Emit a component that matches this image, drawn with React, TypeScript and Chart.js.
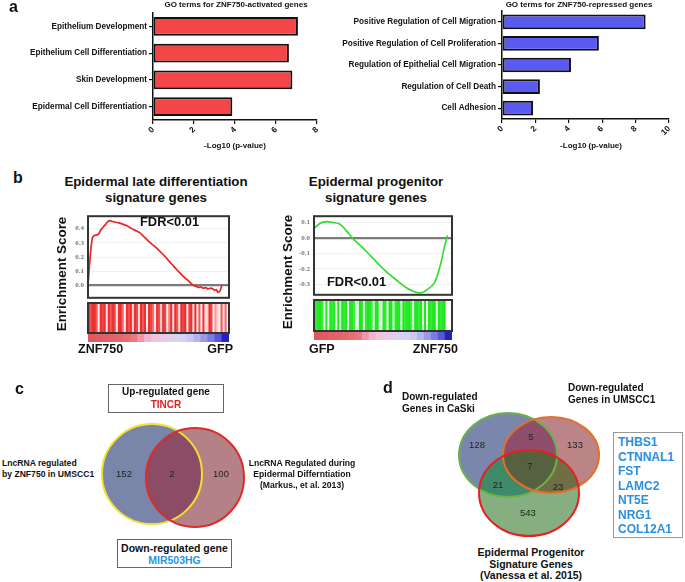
import React, { useEffect, useRef } from "react";
import { Chart, registerables } from "chart.js";
Chart.register(...registerables);

const FONT = "'Liberation Sans', Arial, sans-serif";
const SERIF = "'Liberation Serif', 'Times New Roman', serif";

// ---------- Panel a data ----------
const activatedTerms = ["Epithelium Development", "Epithelium Cell Differentiation", "Skin Development", "Epidermal Cell Differentiation"];
const activatedValues = [7.07, 6.63, 6.8, 3.87];
const activatedTicks = [0, 2, 4, 6, 8];
const repressedTerms = ["Positive Regulation of Cell Migration", "Positive Regulation of Cell Proliferation", "Regulation of Epithelial Cell Migration", "Regulation of Cell Death", "Cell Adhesion"];
const repressedValues = [8.6, 5.8, 4.13, 2.27, 1.86];
const repressedTicks = [0, 2, 4, 6, 8, 10];

// ---------- Panel b data ----------
const lateRank = [0, 1.5, 3, 4.3, 6, 7.5, 9, 10.6, 12.5, 14, 15.6, 17.5, 19.5, 22, 25, 27.7, 31, 34, 36.9, 40, 43, 46, 48.9, 52, 55, 57.5, 60.3, 63, 65.5, 68, 70.2, 72.5, 74.5, 76.5, 78.5, 80, 81.6, 83.5, 85, 87, 88.7, 90, 91, 92.2, 93.5, 94.3, 95];
const lateES = [0, 0.2, 0.33, 0.35, 0.355, 0.36, 0.39, 0.41, 0.43, 0.45, 0.457, 0.45, 0.445, 0.44, 0.43, 0.42, 0.4, 0.385, 0.37, 0.34, 0.31, 0.285, 0.26, 0.23, 0.2, 0.17, 0.14, 0.11, 0.085, 0.06, 0.04, 0.02, 0.0, -0.005, -0.015, -0.01, -0.02, -0.015, -0.025, -0.02, -0.025, -0.035, -0.03, -0.05, -0.04, -0.02, 0.0];
const lateTicks = [0, 0.1, 0.2, 0.3, 0.4];
const progRank = [0, 3, 6, 9.4, 13, 18.8, 23.5, 28.3, 33, 38.2, 43, 47.8, 52.5, 57.2, 62, 67.2, 71.5, 75.6, 79.5, 82.8, 85.5, 87.7, 89.5, 91.3, 92.8, 94.2, 95.5, 96.6];
const progES = [0.06, 0.085, 0.1, 0.105, 0.1, 0.088, 0.045, -0.005, -0.045, -0.09, -0.135, -0.18, -0.22, -0.255, -0.29, -0.325, -0.345, -0.356, -0.35, -0.33, -0.31, -0.283, -0.24, -0.186, -0.13, -0.07, -0.025, 0.015];
const progTicks = [0.1, 0, -0.1, -0.2, -0.3];
const lateBarcode = [1, 0.85, 1, 1, 0.8, 0.1, 1, 0.9, 1, 0.15, 1, 0.8, 1, 0.9, 0.1, 1, 1, 0.7, 0.1, 1, 0.85, 1, 0.2, 1, 0.9, 0.15, 1, 0.8, 1, 0.1, 1, 0.9, 0.7, 0.1, 1, 0.85, 0.2, 1, 0.9, 0.1, 0.6, 1, 0.15, 1, 0.8, 0.1, 1, 0.9, 1, 0.1, 0.9, 1, 0.15, 1, 0.1, 0.8, 0.1, 1, 0.15, 0.2, 1, 0.9, 0.1, 0.5, 0.2, 0.1, 0.8, 0.15, 0.7, 0.1];
const progBarcode = [1, 0.9, 1, 1, 0.85, 0.1, 1, 0.15, 1, 0.9, 1, 0.1, 1, 0.2, 1, 0.9, 1, 0.1, 1, 1, 0.85, 0.15, 0.2, 1, 1, 0.1, 0.9, 1, 1, 0.85, 0.1, 1, 1, 0.15, 0.2, 1, 0.9, 0.1, 1, 1, 0.15, 0.9, 1, 1, 0.1, 1, 0.9, 1, 1, 0.85, 0.1, 1, 1, 0.9, 1, 0.15, 1, 0.1, 1, 0.9, 1, 1, 0.15, 1, 0.9, 1, 1, 0, 0, 0];
const rampColors = ["#e0575f", "#e25a62", "#e35e66", "#e4626a", "#e6666e", "#e86c74", "#ea7680", "#ee96a8", "#f2b4cc", "#f0c4dc", "#ecc8e4", "#e4cdea", "#dcd2f0", "#d4d2f2", "#c8c8f0", "#b4b4ee", "#9a9ae8", "#7c7ce2", "#5656d8", "#2222c4"];

// ---------- Panel c data ----------
const vennCSetNames = ["LncRNA regulated by ZNF750 in UMSCC1", "LncRNA Regulated during Epidermal Differntiation"];
const vennCCounts = [152, 2, 100];
// ---------- Panel d data ----------
const vennDSetNames = ["Down-regulated Genes in CaSki", "Down-regulated Genes in UMSCC1", "Epidermal Progenitor Signature Genes"];
const vennDCounts = [128, 5, 133, 7, 21, 23, 543];
const overlapGenes = ["THBS1", "CTNNAL1", "FST", "LAMC2", "NT5E", "NRG1", "COL12A1"];

// ---------- Venn layout (geometry, kept apart from data) ----------
const vennCShapes = [
  { cx: 0, cy: 0, rx: 1.0, ry: 1.0 },
  { cx: 0.86, cy: 0.07, rx: 0.98, ry: 0.99 },
];
const vennCLabelPos = [
  { x: -0.56, y: 0 },
  { x: 0.4, y: 0 },
  { x: 1.38, y: 0 },
];
const vennCRegions = [
  { sets: [0], color: "#7a85aa" },
  { sets: [1], color: "#b48186" },
  { sets: [0, 1], color: "#8c4c66" },
];
const vennCStrokes = ["#f0e22a", "#e02a2a"];

const vennDShapes = [
  { cx: 0, cy: 0, rx: 1.089, ry: 0.933 },
  { cx: 0.956, cy: 0, rx: 1.067, ry: 0.844 },
  { cx: 0.467, cy: 0.844, rx: 1.111, ry: 0.956 },
];
const vennDLabelPos = [
  { x: -0.689, y: -0.222 },
  { x: 0.511, y: -0.4 },
  { x: 1.489, y: -0.222 },
  { x: 0.489, y: 0.244 },
  { x: -0.222, y: 0.667 },
  { x: 1.111, y: 0.711 },
  { x: 0.444, y: 1.289 },
];
const vennDRegions = [
  { sets: [0], color: "#7b86ad" },
  { sets: [1], color: "#bb8588" },
  { sets: [2], color: "#85ae81" },
  { sets: [0, 1], color: "#8e4f6c" },
  { sets: [0, 2], color: "#3f8a68" },
  { sets: [1, 2], color: "#6e6f45" },
  { sets: [0, 1, 2], color: "#55613f" },
];
const vennDStrokes = ["#6cb04a", "#e0702c", "#e42020"];

// ---------- helpers ----------
type Box = { left: number; top: number; width: number; height: number };

const boxFrame = {
  id: "boxFrame",
  afterDraw(chart: any) {
    const { ctx, chartArea: a } = chart;
    ctx.save();
    ctx.strokeStyle = "#333";
    ctx.lineWidth = 2;
    ctx.strokeRect(a.left, a.top, a.right - a.left, a.bottom - a.top);
    ctx.restore();
  },
};

function mix(base: number[], t: number) {
  const c = base.map((b) => Math.round(255 - t * (255 - b)));
  return `rgb(${c[0]},${c[1]},${c[2]})`;
}

function barConfig(labels: string[], values: number[], ticks: number[], color: string, box: Box, area: { left: number; top: number; right: number; bottom: number }, barPct: number) {
  const tickFont = { family: FONT, size: 8.2, weight: "bold" as const };
  return {
    type: "bar",
    data: {
      labels,
      datasets: [
        {
          data: values,
          backgroundColor: color,
          borderColor: "#111",
          borderWidth: 2,
          borderSkipped: false,
          barPercentage: barPct,
          categoryPercentage: 1,
        },
      ],
    },
    options: {
      indexAxis: "y",
      responsive: false,
      animation: false,
      devicePixelRatio: 1,
      layout: { padding: { top: area.top, right: box.width - area.right, left: 0, bottom: 0 } },
      plugins: { legend: { display: false }, tooltip: { enabled: false }, title: { display: false } },
      scales: {
        x: {
          type: "linear",
          min: ticks[0],
          max: ticks[ticks.length - 1],
          afterBuildTicks: (s: any) => {
            s.ticks = ticks.map((v) => ({ value: v }));
          },
          afterFit: (s: any) => {
            s.height = box.height - area.bottom;
          },
          ticks: { font: tickFont, color: "#111", minRotation: 45, maxRotation: 45, padding: 1, autoSkip: false },
          grid: { display: true, drawOnChartArea: false, drawTicks: true, tickLength: 4, color: "#111", lineWidth: 1.2 },
          border: { display: true, color: "#111", width: 1.5 },
        },
        y: {
          afterFit: (s: any) => {
            s.width = area.left;
          },
          ticks: { font: tickFont, color: "#111", padding: 2, autoSkip: false },
          grid: { display: true, offset: false, drawOnChartArea: false, drawTicks: true, tickLength: 4, color: "#111", lineWidth: 1.2 },
          border: { display: true, color: "#111", width: 1.5 },
        },
      },
    },
  };
}

function esConfig(rank: number[], es: number[], color: string, ticks: number[], min: number, max: number, yWidth: number, tension: number) {
  return {
    type: "line",
    data: {
      datasets: [
        {
          data: rank.map((r, i) => ({ x: r, y: es[i] })),
          borderColor: color,
          borderWidth: 1.7,
          pointRadius: 0,
          tension,
          fill: false,
        },
      ],
    },
    options: {
      responsive: false,
      animation: false,
      devicePixelRatio: 1,
      layout: { padding: { top: 3, right: 3, bottom: 3, left: 0 } },
      plugins: { legend: { display: false }, tooltip: { enabled: false } },
      scales: {
        x: { type: "linear", min: 0, max: 100, display: false },
        y: {
          type: "linear",
          min,
          max,
          afterBuildTicks: (s: any) => {
            s.ticks = ticks.map((v) => ({ value: v }));
          },
          afterFit: (s: any) => {
            s.width = yWidth;
          },
          ticks: {
            font: { family: SERIF, size: 7, weight: "bold" as const },
            color: "#777",
            padding: 4,
            callback: (v: any) => Number(v).toFixed(1),
          },
          grid: {
            drawTicks: false,
            color: (c: any) => (c.tick && c.tick.value === 0 ? "#7a7a7a" : "#f1f1f1"),
            lineWidth: (c: any) => (c.tick && c.tick.value === 0 ? 2.2 : 1),
          },
          border: { display: false },
        },
      },
    },
    plugins: [boxFrame],
  };
}

function stripConfig(colors: string[], framed: boolean) {
  return {
    type: "bar",
    data: {
      labels: colors.map((_, i) => String(i)),
      datasets: [
        {
          data: colors.map(() => 1),
          backgroundColor: colors,
          borderWidth: 0,
          barPercentage: 1,
          categoryPercentage: 1,
          inflateAmount: 0.4,
        },
      ],
    },
    options: {
      responsive: false,
      animation: false,
      devicePixelRatio: 1,
      layout: { padding: framed ? 3 : 0 },
      plugins: { legend: { display: false }, tooltip: { enabled: false } },
      scales: {
        x: { display: false, offset: true },
        y: { display: false, min: 0, max: 1 },
      },
    },
    plugins: framed ? [boxFrame] : [],
  };
}

function vennConfig(counts: number[], labelPos: { x: number; y: number }[], shapes: any[], regions: any[], strokes: string[], xr: number[], yr: number[]) {
  const plugin = {
    id: "vennDraw",
    beforeDatasetsDraw(chart: any) {
      const { ctx, scales } = chart;
      const xs = scales.x;
      const ys = scales.y;
      const path = (s: any) => {
        const px = xs.getPixelForValue(s.cx);
        const py = ys.getPixelForValue(s.cy);
        const rx = Math.abs(xs.getPixelForValue(s.cx + s.rx) - px);
        const ry = Math.abs(ys.getPixelForValue(s.cy + s.ry) - py);
        ctx.beginPath();
        ctx.ellipse(px, py, rx, ry, 0, 0, Math.PI * 2);
      };
      for (const r of regions) {
        ctx.save();
        for (let k = 0; k < r.sets.length - 1; k++) {
          path(shapes[r.sets[k]]);
          ctx.clip();
        }
        path(shapes[r.sets[r.sets.length - 1]]);
        ctx.fillStyle = r.color;
        ctx.fill();
        ctx.restore();
      }
      shapes.forEach((s, i) => {
        ctx.save();
        path(s);
        ctx.strokeStyle = strokes[i];
        ctx.lineWidth = 2;
        ctx.stroke();
        ctx.restore();
      });
    },
    afterDatasetsDraw(chart: any) {
      const { ctx } = chart;
      const meta = chart.getDatasetMeta(0);
      ctx.save();
      ctx.fillStyle = "#222";
      ctx.font = `9.5px ${FONT}`;
      ctx.textAlign = "center";
      ctx.textBaseline = "middle";
      meta.data.forEach((p: any, i: number) => {
        ctx.fillText(String(counts[i]), p.x, p.y);
      });
      ctx.restore();
    },
  };
  return {
    type: "scatter",
    data: {
      datasets: [
        {
          data: labelPos.map((p) => ({ x: p.x, y: p.y })),
          pointRadius: 0,
          pointHoverRadius: 0,
        },
      ],
    },
    options: {
      responsive: false,
      animation: false,
      devicePixelRatio: 1,
      layout: { padding: 0 },
      plugins: { legend: { display: false }, tooltip: { enabled: false } },
      scales: {
        x: { type: "linear", display: false, min: xr[0], max: xr[1] },
        y: { type: "linear", display: false, min: yr[0], max: yr[1], reverse: true },
      },
    },
    plugins: [plugin],
  };
}

const RED = [238, 48, 48];
const GREEN = [34, 232, 34];

const CANVASES: { box: Box; make: () => any }[] = [
  {
    box: { left: 0, top: 0, width: 340, height: 160 },
    make: () => barConfig(activatedTerms, activatedValues, activatedTicks, "#f44646", { left: 0, top: 0, width: 340, height: 160 }, { left: 153, top: 13, right: 317, bottom: 120 }, 0.71),
  },
  {
    box: { left: 340, top: 0, width: 345, height: 160 },
    make: () => barConfig(repressedTerms, repressedValues, repressedTicks, "#5a5af0", { left: 340, top: 0, width: 345, height: 160 }, { left: 162, top: 11, right: 329, bottom: 119 }, 0.68),
  },
  { box: { left: 88, top: 333, width: 141, height: 9 }, make: () => stripConfig(rampColors, false) },
  { box: { left: 314, top: 331, width: 138, height: 9 }, make: () => stripConfig(rampColors, false) },
  {
    box: { left: 40, top: 208, width: 192, height: 98 },
    make: () => esConfig(lateRank, lateES, "#ee2222", lateTicks, -0.0875, 0.4875, 48, 0.15),
  },
  {
    box: { left: 266, top: 208, width: 189, height: 95 },
    make: () => esConfig(progRank, progES, "#33dd33", progTicks, -0.3686, 0.14, 48, 0.35),
  },
  { box: { left: 85, top: 300, width: 147, height: 36 }, make: () => stripConfig(lateBarcode.map((t) => mix(RED, t)), true) },
  { box: { left: 311, top: 297, width: 144, height: 37 }, make: () => stripConfig(progBarcode.map((t) => mix(GREEN, t)), true) },
  {
    box: { left: 95, top: 418, width: 160, height: 118 },
    make: () => vennConfig(vennCCounts, vennCLabelPos, vennCShapes, vennCRegions, vennCStrokes, [-1.14, 2.06], [-1.12, 1.24]),
  },
  {
    box: { left: 450, top: 405, width: 160, height: 140 },
    make: () => vennConfig(vennDCounts, vennDLabelPos, vennDShapes, vennDRegions, vennDStrokes, [-1.289, 2.267], [-1.111, 2.0]),
  },
];

type TProps = { x: number; y: number; text: string; size: number; bold?: boolean; color?: string; align?: "left" | "center" | "right"; rotate?: boolean };
function T({ x, y, text, size, bold = true, color = "#111", align = "left", rotate = false }: TProps) {
  const ax = align === "center" ? "-50%" : align === "right" ? "-100%" : "0";
  return (
    <div
      style={{
        position: "absolute",
        left: x,
        top: y,
        transform: rotate ? "translate(-50%, -50%) rotate(-90deg)" : `translate(${ax}, -50%)`,
        whiteSpace: "nowrap",
        fontFamily: FONT,
        fontSize: size,
        fontWeight: bold ? 700 : 400,
        color,
        lineHeight: 1,
      }}
    >
      {text}
    </div>
  );
}

export default function App() {
  const refs = useRef<(HTMLCanvasElement | null)[]>([]);
  useEffect(() => {
    const charts = CANVASES.map((c, i) => new Chart(refs.current[i] as HTMLCanvasElement, c.make()));
    return () => charts.forEach((ch) => ch.destroy());
  }, []);

  const boxStyle = (l: number, t: number, w: number, h: number, border: string): React.CSSProperties => ({
    position: "absolute",
    left: l,
    top: t,
    width: w,
    height: h,
    border,
    boxSizing: "border-box",
  });

  return (
    <div style={{ position: "absolute", left: 0, top: 0, width: 685, height: 582, background: "#fff", overflow: "hidden", fontFamily: FONT }}>
      {CANVASES.map((c, i) => (
        <canvas
          key={i}
          ref={(el) => {
            refs.current[i] = el;
          }}
          width={c.box.width}
          height={c.box.height}
          style={{ position: "absolute", left: c.box.left, top: c.box.top, width: c.box.width, height: c.box.height, display: "block" }}
        />
      ))}

      {/* panel a */}
      <T x={9} y={7} text="a" size={16} />
      <T x={236} y={5} text="GO terms for ZNF750-activated genes" size={8} align="center" />
      <T x={579} y={5} text="GO terms for ZNF750-repressed genes" size={8} align="center" />
      <T x={235} y={146} text="-Log10 (p-value)" size={8} align="center" />
      <T x={591} y={146} text="-Log10 (p-value)" size={8} align="center" />

      {/* panel b */}
      <T x={13} y={178} text="b" size={16} />
      <T x={156} y={182} text="Epidermal late differentiation" size={13.3} align="center" />
      <T x={156} y={198} text="signature genes" size={13.3} align="center" />
      <T x={376} y={182} text="Epidermal progenitor" size={13.3} align="center" />
      <T x={376} y={198} text="signature genes" size={13.3} align="center" />
      <T x={62} y={274} text="Enrichment Score" size={13.4} rotate />
      <T x={288} y={272} text="Enrichment Score" size={13.4} rotate />
      <T x={140} y={222} text="FDR<0.01" size={12.9} />
      <T x={327} y={282} text="FDR<0.01" size={12.9} />
      <T x={78} y={349} text="ZNF750" size={12.5} />
      <T x={233} y={349} text="GFP" size={12.5} align="right" />
      <T x={309} y={349} text="GFP" size={12.5} />
      <T x={458} y={349} text="ZNF750" size={12.5} align="right" />

      {/* panel c */}
      <T x={15} y={389} text="c" size={16} />
      <div style={boxStyle(108, 384, 116, 29, "1px solid #666")} />
      <T x={166} y={392} text="Up-regulated gene" size={10} align="center" />
      <T x={166} y={405} text="TINCR" size={10} align="center" color="#e21f1f" />
      <T x={2} y={463} text="LncRNA regulated" size={8.6} />
      <T x={2} y={474} text="by ZNF750 in UMSCC1" size={8.6} />
      <T x={302} y={463} text="LncRNA Regulated during" size={8.6} align="center" />
      <T x={302} y={474} text="Epidermal Differntiation" size={8.6} align="center" />
      <T x={302} y={485} text="(Markus., et al. 2013)" size={8.6} align="center" />
      <div style={boxStyle(117, 539, 115, 29, "1px solid #666")} />
      <T x={174.5} y={548} text="Down-regulated gene" size={10.5} align="center" />
      <T x={174.5} y={560} text="MIR503HG" size={10.5} align="center" color="#2e96e0" />

      {/* panel d */}
      <T x={383} y={388} text="d" size={16} />
      <T x={402} y={397} text="Down-regulated" size={10} />
      <T x={402} y={408.5} text="Genes in CaSki" size={10} />
      <T x={568} y={388} text="Down-regulated" size={10} />
      <T x={568} y={400} text="Genes in UMSCC1" size={10} />
      <T x={531} y={552} text="Epidermal Progenitor" size={10.5} align="center" />
      <T x={531} y={563.5} text="Signature Genes" size={10.5} align="center" />
      <T x={531} y={575} text="(Vanessa et al. 2015)" size={10.5} align="center" />
      <div style={boxStyle(613, 432, 70, 106, "1px solid #999")} />
      {overlapGenes.map((g, i) => (
        <T key={g} x={618} y={442 + i * 14.5} text={g} size={12} color="#2b8fde" />
      ))}
    </div>
  );
}
